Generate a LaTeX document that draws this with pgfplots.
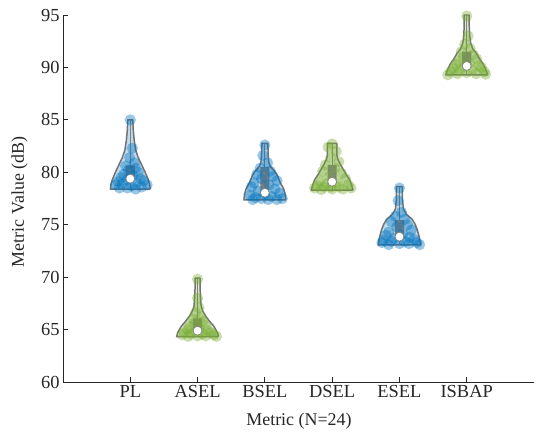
\documentclass[border=0pt]{standalone}
\usepackage{pgfplots}
\usepackage{pgfplotstable}
\pgfplotsset{compat=1.18}
\usepackage{fontspec}
\setmainfont{Liberation Serif}
\definecolor{mblue}{RGB}{0,114,189}
\definecolor{mgreen}{RGB}{119,172,48}
\definecolor{vgray}{RGB}{115,115,115}
\definecolor{bgray}{RGB}{128,128,128}
\definecolor{axgray}{RGB}{38,38,38}

% violin outlines: y, half-width in px (67.6 px = 1 category unit)
\pgfplotstableread{
y w
78.40 20
78.80 19.5
79.30 18
80.00 15
80.60 12
81.40 8
82.10 5.5
83.00 4
84.00 3
85.00 2.5
85.00 -2.5
84.00 -3
83.00 -4
82.10 -5.5
81.40 -8
80.60 -12
80.00 -15
79.30 -18
78.80 -19.5
78.40 -20
78.40 20
}\vPL
\pgfplotstableread{
y w
64.32 21
64.70 20
65.30 16.5
65.80 12
66.30 8
66.80 5
67.30 3.5
68.00 3
69.00 2.5
69.90 2.5
69.90 -2.5
69.00 -2.5
68.00 -3
67.30 -3.5
66.80 -5
66.30 -8
65.80 -12
65.30 -16.5
64.70 -20
64.32 -21
64.32 21
}\vASEL
\pgfplotstableread{
y w
77.36 21
77.90 20.5
78.40 19
79.00 15.5
79.60 13
80.10 10
80.50 6
80.90 4
81.80 3.3
82.76 3
82.76 -3
81.80 -3.3
80.90 -4
80.50 -6
80.10 -10
79.60 -13
79.00 -15.5
78.40 -19
77.90 -20.5
77.36 -21
77.36 21
}\vBSEL
\pgfplotstableread{
y w
78.31 21
78.80 19.5
79.30 17.5
79.80 14
80.30 11
80.80 8
81.30 5.5
81.65 4.7
82.30 4.7
82.76 4.7
82.76 -4.7
82.30 -4.7
81.65 -4.7
81.30 -5.5
80.80 -8
80.30 -11
79.80 -14
79.30 -17.5
78.80 -19.5
78.31 -21
78.31 21
}\vDSEL
\pgfplotstableread{
y w
73.07 21.5
73.50 20.5
74.00 19.5
74.50 18
75.00 16
75.50 13
76.00 7
76.50 4
77.50 3
78.63 3
78.63 -3
77.50 -3
76.50 -4
76.00 -7
75.50 -13
75.00 -16
74.50 -18
74.00 -19.5
73.50 -20.5
73.07 -21.5
73.07 21.5
}\vESEL
\pgfplotstableread{
y w
89.28 21
89.70 19.5
90.30 16.7
90.80 13
91.30 10
91.80 6
92.30 4
93.00 3
94.00 2.5
95.00 2.5
95.00 -2.5
94.00 -2.5
93.00 -3
92.30 -4
91.80 -6
91.30 -10
90.80 -13
90.30 -16.7
89.70 -19.5
89.28 -21
89.28 21
}\vISBAP

% data points
\pgfplotstableread{
x y
1.00 85.0
1.03 82.3
0.99 81.4
1.06 80.9
0.93 80.6
1.08 80.4
0.97 80.2
1.12 80.0
0.90 79.8
1.04 79.7
0.86 79.5
1.15 79.4
0.95 79.3
1.20 79.2
0.82 79.1
1.10 79.0
0.88 78.9
1.25 78.8
0.78 78.8
1.02 78.7
1.17 78.6
0.84 78.5
0.96 78.5
1.08 78.4
}\pPL
\pgfplotstableread{
x y
2.00 69.8
2.00 68.0
2.02 67.1
1.97 66.6
2.05 66.2
1.93 66.0
2.08 65.8
1.95 65.6
2.12 65.4
1.88 65.3
2.03 65.1
1.85 65.0
2.15 64.9
1.97 64.8
2.20 64.7
1.80 64.7
2.07 64.6
1.90 64.6
2.24 64.5
1.77 64.5
2.00 64.4
2.12 64.4
1.86 64.35
2.28 64.35
}\pASEL
\pgfplotstableread{
x y
3.00 82.6
2.97 81.6
3.04 80.9
2.93 80.4
3.08 80.1
2.88 79.8
3.12 79.6
2.95 79.4
3.18 79.2
2.84 79.0
3.06 78.8
2.80 78.6
3.15 78.4
2.90 78.2
3.22 78.0
3.00 77.9
2.78 77.8
3.10 77.7
2.86 77.6
3.26 77.5
2.95 77.5
3.18 77.4
2.82 77.4
3.05 77.4
}\pBSEL
\pgfplotstableread{
x y
4.00 82.7
3.94 82.4
4.06 82.0
3.98 81.4
4.10 81.0
3.90 80.7
4.04 80.4
3.86 80.1
4.14 79.9
3.96 79.6
4.20 79.4
3.82 79.2
4.06 79.0
3.92 78.9
4.24 78.8
3.78 78.7
4.10 78.6
3.88 78.6
4.28 78.5
3.74 78.5
4.00 78.4
4.16 78.4
3.84 78.35
3.98 78.6
}\pDSEL
\pgfplotstableread{
x y
5.00 78.5
4.98 77.3
5.03 76.2
4.94 75.8
5.08 75.5
4.88 75.3
5.12 75.0
4.96 74.8
5.18 74.5
4.84 74.3
5.05 74.1
4.80 74.0
5.15 73.8
4.92 73.7
5.22 73.6
4.76 73.5
5.08 73.4
4.88 73.4
5.26 73.3
4.74 73.3
5.00 73.2
5.14 73.2
4.84 73.1
5.30 73.1
}\pESEL
\pgfplotstableread{
x y
6.00 94.9
6.02 93.0
5.97 92.2
6.05 91.8
5.92 91.5
6.10 91.2
5.95 91.0
6.15 90.8
5.88 90.6
6.04 90.4
5.84 90.3
6.18 90.2
5.96 90.1
6.22 90.0
5.80 89.9
6.08 89.8
5.90 89.7
6.26 89.6
5.76 89.6
6.00 89.5
6.14 89.4
5.86 89.4
5.72 89.3
6.28 89.35
}\pISBAP

% #1 pos, #2 outline table, #3 points table, #4 colour
\newcommand{\violin}[4]{%
  \addplot[draw=none, fill=#4, fill opacity=0.25, forget plot] table[x expr=#1+\thisrow{w}/67.6, y=y] {#2};
  \addplot[#4, only marks, mark=*, mark size=5.6bp, mark options={draw=#4, draw opacity=0, fill=#4, fill opacity=0.4}, forget plot] table[x=x, y=y] {#3};
  \addplot[draw=vgray, line width=1.5pt, line join=round, forget plot] table[x expr=#1+\thisrow{w}/67.6, y=y] {#2};
}
% #1 pos, #2 q1, #3 q3, #4 median, #5 min, #6 max
\newcommand{\boxmed}[6]{%
  \addplot[bgray, line width=1.2pt, forget plot] coordinates {(#1,#5) (#1,#6)};
  \addplot[draw=none, fill=bgray, forget plot] coordinates {(#1-0.068,#2) (#1+0.068,#2) (#1+0.068,#3) (#1-0.068,#3) (#1-0.068,#2)};
  \addplot[bgray, only marks, mark=*, mark size=4.4bp, mark options={draw=bgray, fill=white, line width=0.6pt}, forget plot] coordinates {(#1,#4)};
}

\begin{document}
\begin{tikzpicture}
\begin{axis}[
  scale only axis,
  width=471bp, height=367bp,
  xmin=0, xmax=7, ymin=60, ymax=95,
  axis x line*=bottom, axis y line*=left,
  axis line style={axgray, line width=0.8pt},
  xtick={1,2,3,4,5,6},
  xticklabels={PL,ASEL,BSEL,DSEL,ESEL,ISBAP},
  ytick={60,65,...,95},
  tick align=inside,
  major tick length=5bp,
  tick style={axgray, line width=0.8pt},
  /pgf/number format/assume math mode=true,
  tick label style={font=\fontsize{18.5}{18.5}\selectfont, text=axgray},
  label style={font=\fontsize{18}{18}\selectfont, text=axgray},
  xlabel={Metric (N=24)},
  ylabel={Metric Value (dB)},
  xlabel style={at={(axis description cs:0.501,0)}, anchor=center, yshift=-39bp},
  ylabel style={at={(axis description cs:-0.092,0.491)}, anchor=center},
  clip=false,
]
\violin{1}{\vPL}{\pPL}{mblue}
\violin{2}{\vASEL}{\pASEL}{mgreen}
\violin{3}{\vBSEL}{\pBSEL}{mblue}
\violin{4}{\vDSEL}{\pDSEL}{mgreen}
\violin{5}{\vESEL}{\pESEL}{mblue}
\violin{6}{\vISBAP}{\pISBAP}{mgreen}
\boxmed{1}{79.25}{80.65}{79.39}{78.40}{85.00}
\boxmed{2}{64.75}{66.07}{64.89}{64.32}{69.90}
\boxmed{3}{77.90}{80.50}{78.05}{77.36}{82.76}
\boxmed{4}{78.95}{80.70}{79.10}{78.31}{82.76}
\boxmed{5}{73.70}{75.45}{73.86}{73.07}{78.63}
\boxmed{6}{90.00}{91.50}{90.14}{89.28}{95.00}
\end{axis}
\pgfresetboundingbox
\path[use as bounding box] ([xshift=-63bp,yshift=-59bp]current axis.south west) rectangle ([yshift=15bp]current axis.north east);
\end{tikzpicture}
\end{document}
